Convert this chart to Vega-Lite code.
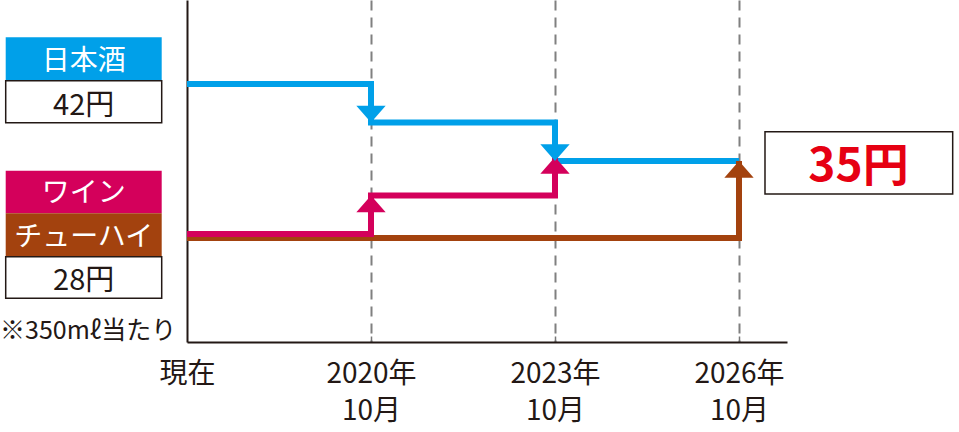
{
  "$schema": "https://vega.github.io/schema/vega-lite/v6.json",
  "width": 600,
  "height": 342,
  "autosize": {"type": "none"},
  "padding": {"left": 187, "right": 172, "top": 0, "bottom": 90},
  "background": "white",
  "config": {"view": {"stroke": null}, "font": "Noto Sans CJK JP"},
  "data": {"values": [{}]},
  "datasets": {
    "steps": [
      {"series": "日本酒", "period": 0, "value": 42},
      {"series": "日本酒", "period": 1, "value": 38.5},
      {"series": "日本酒", "period": 2, "value": 35},
      {"series": "日本酒", "period": 3, "value": 35},
      {"series": "ワイン", "period": 0, "value": 28},
      {"series": "ワイン", "period": 1, "value": 31.5},
      {"series": "ワイン", "period": 2, "value": 35},
      {"series": "チューハイ", "period": 0, "value": 28},
      {"series": "チューハイ", "period": 3, "value": 35}
    ],
    "boxes": [
      {"series": "日本酒", "label": "日本酒", "kind": "head", "top": 46.245, "bottom": 42.3},
      {"series": "日本酒", "label": "42円", "kind": "value", "top": 42.3, "bottom": 38.48},
      {"series": "ワイン", "label": "ワイン", "kind": "head", "top": 34.118, "bottom": 30.245},
      {"series": "チューハイ", "label": "チューハイ", "kind": "head", "top": 30.245, "bottom": 26.3},
      {"series": "チューハイ", "label": "28円", "kind": "value", "top": 26.3, "bottom": 22.518}
    ]
  },
  "layer": [
    {
      "data": {"name": "steps"},
      "transform": [{"filter": "datum.series != 'ワイン'"}],
      "mark": {"type": "line", "interpolate": "step-after", "strokeWidth": 6, "strokeCap": "butt", "strokeJoin": "miter"},
      "encoding": {
        "x": {"field": "period", "type": "quantitative", "scale": {"domain": [0, 3.2609], "nice": false, "zero": false}, "title": null,
          "axis": {
            "values": [0, 1, 2, 3],
            "labelExpr": "datum.value == 0 ? '現在' : datum.value == 1 ? ['2020年', '10月'] : datum.value == 2 ? ['2023年', '10月'] : ['2026年', '10月']",
            "labelFont": "Noto Sans CJK JP", "labelFontSize": 28, "labelColor": "#231815", "labelLineHeight": 37,
            "labelPadding": 24, "labelFlush": false, "labelOverlap": false, "labelBound": false,
            "domainColor": "#231815", "domainWidth": 2,
            "ticks": true, "tickSize": -6, "tickColor": "#777777", "tickWidth": 1.5,
            "tickOpacity": {"condition": {"test": "datum.value == 0", "value": 0}, "value": 1},
            "grid": true, "gridDash": [10, 7], "gridColor": "#808080", "gridWidth": 2,
            "gridOpacity": {"condition": {"test": "datum.value == 0", "value": 0}, "value": 1},
            "title": null
          }},
        "y": {"field": "value", "type": "quantitative", "scale": {"domain": [18.545, 49.636], "nice": false, "zero": false}, "title": null,
          "axis": {"domain": true, "domainColor": "#231815", "domainWidth": 2, "ticks": false, "labels": false, "grid": false, "title": null}},
        "color": {"field": "series", "type": "nominal", "scale": {"domain": ["日本酒", "ワイン", "チューハイ"], "range": ["#00a0e9", "#d4005b", "#a3420e"]}, "legend": null}
      }
    },
    {
      "data": {"name": "steps"},
      "transform": [{"filter": "datum.series == 'ワイン'"}],
      "mark": {"type": "line", "interpolate": "step-after", "strokeWidth": 6, "strokeCap": "butt", "strokeJoin": "miter", "yOffset": -4},
      "encoding": {
        "x": {"field": "period", "type": "quantitative", "scale": {"domain": [0, 3.2609], "nice": false, "zero": false}, "title": null},
        "y": {"field": "value", "type": "quantitative", "scale": {"domain": [18.545, 49.636], "nice": false, "zero": false}, "title": null},
        "color": {"field": "series", "type": "nominal", "legend": null}
      }
    },
    {
      "data": {"name": "steps"},
      "transform": [{"filter": "datum.series == 'ワイン' && datum.period > 0"}],
      "mark": {"type": "point", "filled": true, "opacity": 1, "size": 860, "strokeWidth": 0, "yOffset": -4},
      "encoding": {
        "x": {"field": "period", "type": "quantitative", "scale": {"domain": [0, 3.2609], "nice": false, "zero": false}, "title": null},
        "y": {"field": "value", "type": "quantitative", "scale": {"domain": [18.545, 49.636], "nice": false, "zero": false}, "title": null},
        "color": {"field": "series", "type": "nominal", "legend": null},
        "shape": {"field": "series", "type": "nominal", "scale": {"domain": ["日本酒", "ワイン", "チューハイ"], "range": ["M-1,-1.14L1,-1.14L0,0Z", "M-1,1.14L1,1.14L0,0Z", "M-1,1.14L1,1.14L0,0Z"]}, "legend": null}
      }
    },
    {
      "data": {"name": "steps"},
      "transform": [{"filter": "datum.series != 'ワイン' && datum.period > 0 && !(datum.series == '日本酒' && datum.period == 3)"}],
      "mark": {"type": "point", "filled": true, "opacity": 1, "size": 860, "strokeWidth": 0},
      "encoding": {
        "x": {"field": "period", "type": "quantitative", "scale": {"domain": [0, 3.2609], "nice": false, "zero": false}, "title": null},
        "y": {"field": "value", "type": "quantitative", "scale": {"domain": [18.545, 49.636], "nice": false, "zero": false}, "title": null},
        "color": {"field": "series", "type": "nominal", "legend": null},
        "shape": {"field": "series", "type": "nominal", "legend": null}
      }
    },
    {
      "data": {"name": "boxes"},
      "transform": [{"filter": "datum.kind == 'head'"}],
      "mark": {"type": "rect", "opacity": 1},
      "encoding": {
        "x": {"datum": -0.9853, "scale": {"domain": [0, 3.2609], "nice": false, "zero": false}, "title": null},
        "x2": {"datum": -0.1375},
        "y": {"field": "top", "type": "quantitative", "scale": {"domain": [18.545, 49.636], "nice": false, "zero": false}, "title": null},
        "y2": {"field": "bottom"},
        "color": {"field": "series", "type": "nominal", "legend": null}
      }
    },
    {
      "data": {"name": "boxes"},
      "transform": [{"filter": "datum.kind == 'value'"}],
      "mark": {"type": "rect", "fill": "white", "stroke": "#231815", "strokeWidth": 1.5},
      "encoding": {
        "x": {"datum": -0.9853, "scale": {"domain": [0, 3.2609], "nice": false, "zero": false}, "title": null},
        "x2": {"datum": -0.1375},
        "y": {"field": "top", "type": "quantitative", "scale": {"domain": [18.545, 49.636], "nice": false, "zero": false}, "title": null},
        "y2": {"field": "bottom"}
      }
    },
    {
      "data": {"name": "boxes"},
      "transform": [{"filter": "datum.kind == 'head'"}],
      "mark": {"type": "text", "color": "white", "fontSize": 28, "align": "center", "baseline": "alphabetic", "dy": -11, "font": "Noto Sans CJK JP"},
      "encoding": {
        "x": {"datum": -0.5614, "scale": {"domain": [0, 3.2609], "nice": false, "zero": false}, "title": null},
        "y": {"field": "bottom", "type": "quantitative", "scale": {"domain": [18.545, 49.636], "nice": false, "zero": false}, "title": null},
        "text": {"field": "label"}
      }
    },
    {
      "data": {"name": "boxes"},
      "transform": [{"filter": "datum.kind == 'value'"}],
      "mark": {"type": "text", "color": "#231815", "fontSize": 29, "align": "center", "baseline": "alphabetic", "dy": -8, "font": "Noto Sans CJK JP"},
      "encoding": {
        "x": {"datum": -0.5614, "scale": {"domain": [0, 3.2609], "nice": false, "zero": false}, "title": null},
        "y": {"field": "bottom", "type": "quantitative", "scale": {"domain": [18.545, 49.636], "nice": false, "zero": false}, "title": null},
        "text": {"field": "label"}
      }
    },
    {
      "mark": {"type": "text", "text": "※350mℓ当たり", "color": "#231815", "fontSize": 25, "align": "left", "baseline": "middle", "font": "Noto Sans CJK JP"},
      "encoding": {
        "x": {"datum": -1.0163, "scale": {"domain": [0, 3.2609], "nice": false, "zero": false}, "title": null},
        "y": {"datum": 19.545, "scale": {"domain": [18.545, 49.636], "nice": false, "zero": false}, "title": null}
      }
    },
    {
      "mark": {"type": "rect", "fill": "white", "stroke": "#231815", "strokeWidth": 1.5},
      "encoding": {
        "x": {"datum": 3.1413, "scale": {"domain": [0, 3.2609], "nice": false, "zero": false}, "title": null},
        "x2": {"datum": 4.1614},
        "y": {"datum": 37.664, "scale": {"domain": [18.545, 49.636], "nice": false, "zero": false}, "title": null},
        "y2": {"datum": 32.0}
      }
    },
    {
      "mark": {"type": "text", "text": "35円", "color": "#e60012", "fontSize": 46, "fontWeight": "bold", "align": "center", "baseline": "middle", "font": "Noto Sans CJK JP"},
      "encoding": {
        "x": {"datum": 3.6495, "scale": {"domain": [0, 3.2609], "nice": false, "zero": false}, "title": null},
        "y": {"datum": 34.45, "scale": {"domain": [18.545, 49.636], "nice": false, "zero": false}, "title": null}
      }
    }
  ]
}
